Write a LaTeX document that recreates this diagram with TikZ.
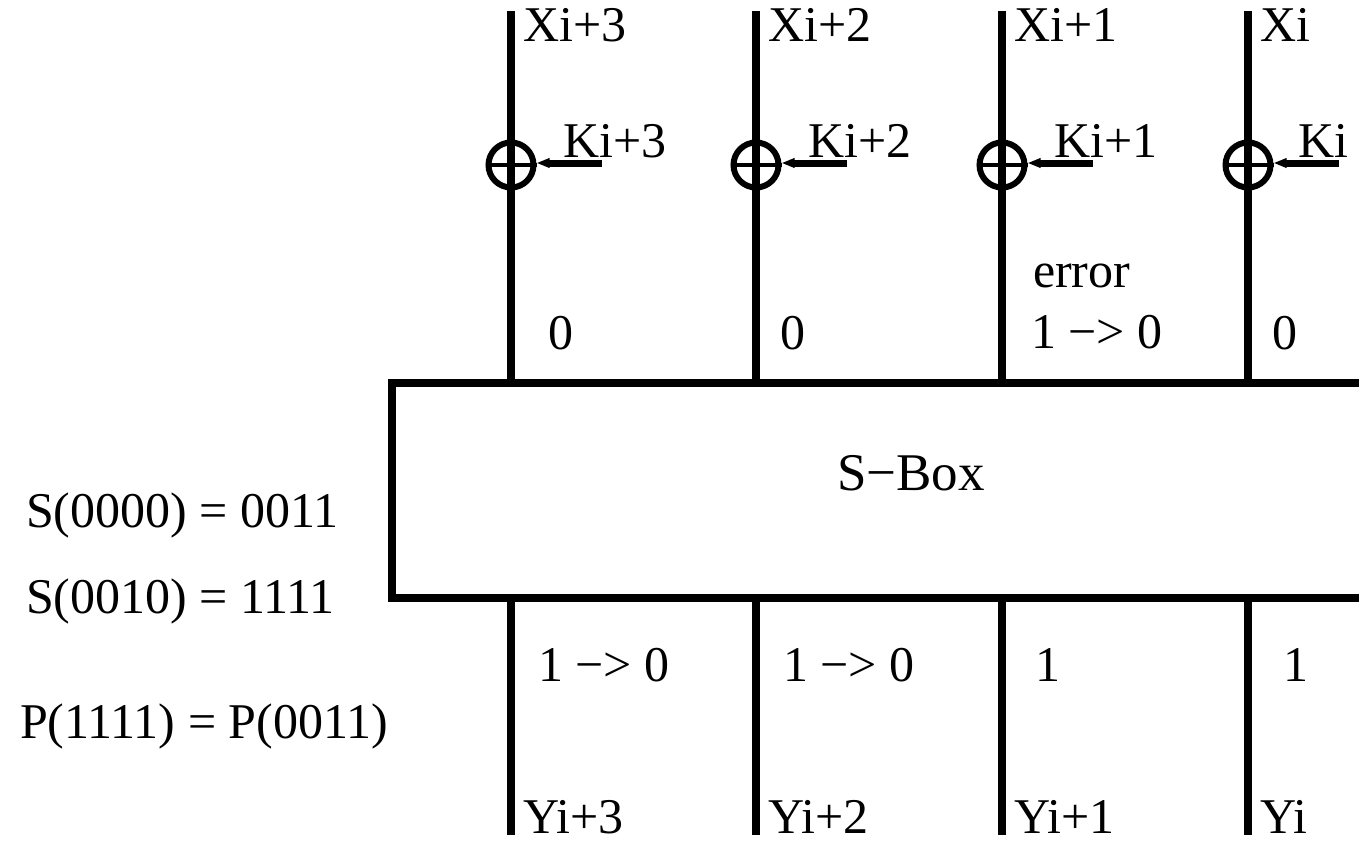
\documentclass[tikz,border=0pt]{standalone}
\usepackage{fontspec}
\setmainfont{Liberation Serif}
\usetikzlibrary{arrows.meta}
\begin{document}
\begin{tikzpicture}[x=1pt,y=-1pt,
  lbl/.style={inner sep=0pt, outer sep=0pt, anchor=base west, font=\fontsize{50}{54}\selectfont},
  wire/.style={line width=8pt},
  xorc/.style={circle, draw, line width=6pt, minimum size=45pt, inner sep=0pt},
  xbar/.style={line width=4pt},
  karrow/.style={line width=7pt, -{Triangle[length=13pt,width=9pt]}},
  boxst/.style={draw, line width=8pt, rectangle, anchor=north west, minimum width=1000pt, minimum height=215pt, inner sep=0pt}
]
\useasboundingbox (0,0) rectangle (1359,843);
\clip (0,0) rectangle (1359,843);

% S-box
\node[boxst] (sbox) at (388,379) {};
\node[lbl, font=\fontsize{53}{56}\selectfont] (sboxlbl) at (837,490) {S−Box};

% wires
\foreach \i/\x in {1/511,2/756,3/1002,4/1248}{
  \coordinate (t\i) at (\x,11);
  \coordinate (b\i) at (\x,835);
  \draw[wire] (t\i) -- (t\i |- sbox.north);
  \draw[wire] (t\i |- sbox.south) -- (b\i);
  \node[xorc, fill=white] (o\i) at (\x,165) {};
  \draw[xbar] (o\i.west) -- (o\i.east);
  \draw[wire] (o\i.north) -- (o\i.south);
  \coordinate (k\i) at (\x+91,163);
  \draw[karrow] (k\i) -- (k\i -| o\i.east);
}

% top labels
\node[lbl] (x3) at (523,42) {Xi+3};
\node[lbl] (x2) at (768,42) {Xi+2};
\node[lbl] (x1) at (1014,42) {Xi+1};
\node[lbl] (x0) at (1260,42) {Xi};

\node[lbl] (ki3) at (563,157) {Ki+3};
\node[lbl] (ki2) at (808,157) {Ki+2};
\node[lbl] (ki1) at (1054,157) {Ki+1};
\node[lbl] (ki0) at (1298,157) {Ki};

\node[lbl] (in3) at (548,349) {0};
\node[lbl] (in2) at (780,349) {0};
\node[lbl] (err) at (1033,287) {error};
\node[lbl] (in1) at (1031,348) {1 −> 0};
\node[lbl] (in0) at (1272,349) {0};

% bottom labels
\node[lbl] (out3) at (538,681) {1 −> 0};
\node[lbl] (out2) at (783,681) {1 −> 0};
\node[lbl] (out1) at (1035,681) {1};
\node[lbl] (out0) at (1283,681) {1};

\node[lbl] (y3) at (523,833) {Yi+3};
\node[lbl] (y2) at (768,833) {Yi+2};
\node[lbl] (y1) at (1014,833) {Yi+1};
\node[lbl] (y0) at (1260,833) {Yi};

% left equations
\node[lbl] (eq1) at (26,527) {S(0000) = 0011};
\node[lbl] (eq2) at (26,613) {S(0010) = 1111};
\node[lbl] (eq3) at (20,738) {P(1111) = P(0011)};
\end{tikzpicture}
\end{document}
